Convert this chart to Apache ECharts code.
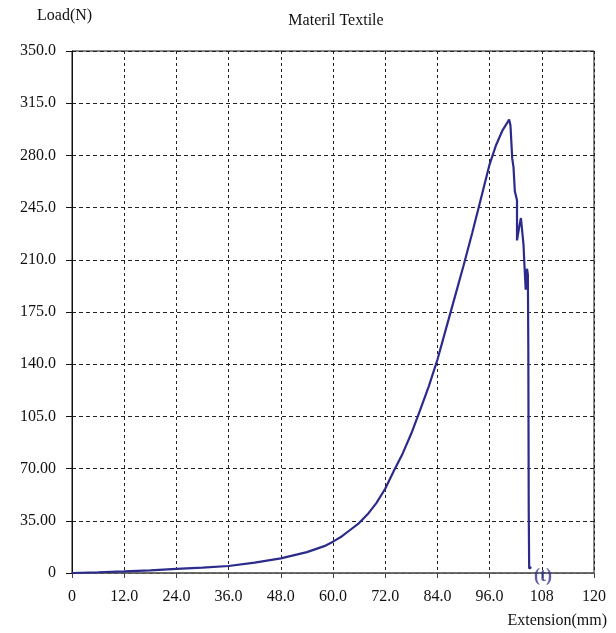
<!DOCTYPE html>
<html>
<head>
<meta charset="utf-8">
<script src="https://cdn.jsdelivr.net/npm/echarts@6/dist/echarts.min.js"></script>
<style>html,body{margin:0;padding:0;background:#fff;}#chart{width:616px;height:633px;}</style>
</head>
<body>
<div id="chart"></div>
<script>
const extension = [0, 6, 12, 18, 24, 30, 36, 42, 48, 54, 58, 60, 62, 64, 66, 68, 70, 72, 74, 76, 78, 80, 82, 84, 86, 88, 90, 92, 94, 96, 97.5, 99, 100.5, 100.8, 101.2, 101.5, 101.8, 102.3, 102.3, 102.8, 103.2, 103.6, 103.8, 104.0, 104.3, 104.6, 104.8, 104.9, 105.0, 105.1, 105.6];
const load = [0, 0.5, 1.1, 1.8, 2.7, 3.6, 4.7, 7, 9.8, 14, 18, 21, 24.5, 29, 33.5, 39.5, 47, 56.5, 68.5, 80, 93.5, 109, 125, 143, 164, 185, 206, 228, 251, 274, 287, 297, 304, 300, 278, 272, 256, 250, 223, 232, 238, 238, 220, 207, 190, 204, 200, 150, 40, 3, 4];
const xTickLabels = ['0', '12.0', '24.0', '36.0', '48.0', '60.0', '72.0', '84.0', '96.0', '108', '120'];
const yTickLabels = ['0', '35.00', '70.00', '105.0', '140.0', '175.0', '210.0', '245.0', '280.0', '315.0', '350.0'];
const title = 'Materil Textile';
const yName = 'Load(N)';
const xName = 'Extension(mm)';
const breakLabel = '(t)';
const breakPoint = [108.3, -2.5];

const font = 'Liberation Serif, Times New Roman, serif';
const chart = echarts.init(document.getElementById('chart'));
chart.setOption({
  animation: false,
  backgroundColor: '#fff',
  title: {
    text: title, left: 331, top: 8, textAlign: 'center',
    textStyle: { fontFamily: font, fontSize: 16, fontWeight: 'normal', color: '#111' }
  },
  graphic: [
    { type: 'text', left: 37, top: 8, style: { text: yName, font: '16px ' + font, fill: '#111' } },
    { type: 'text', right: 9, top: 613, style: { text: xName, font: '16px ' + font, fill: '#111' } }
  ],
  grid: { left: 72, top: 51, right: 22, bottom: 60, show: true, borderColor: '#111', borderWidth: 1 },
  xAxis: {
    type: 'value', min: 0, max: 120, interval: 12,
    axisLine: { show: true, onZero: false, lineStyle: { color: '#666', width: 1.5 } },
    axisTick: { show: true, length: 5, lineStyle: { color: '#444' } },
    axisLabel: {
      margin: 16, fontFamily: font, fontSize: 16, color: '#111',
      formatter: v => xTickLabels[Math.round(v / 12)]
    },
    splitLine: { show: true, lineStyle: { color: '#222', type: [3, 3], width: 1 } }
  },
  yAxis: {
    type: 'value', min: 0, max: 350, interval: 35,
    axisLine: { show: true, lineStyle: { color: '#111', width: 1 } },
    axisTick: { show: true, length: 6, lineStyle: { color: '#111' } },
    axisLabel: {
      margin: 16, fontFamily: font, fontSize: 16, color: '#111',
      formatter: v => yTickLabels[Math.round(v / 35)]
    },
    splitLine: { show: true, lineStyle: { color: '#222', type: [4, 3], width: 1 } }
  },
  series: [{
    type: 'line',
    data: extension.map((x, i) => [x, load[i]]),
    showSymbol: false,
    symbol: 'none',
    clip: false,
    lineStyle: { color: '#2b2b8c', width: 2.2 }
  }, {
    type: 'scatter',
    data: [breakPoint],
    symbolSize: 0,
    clip: false,
    silent: true,
    label: { show: true, formatter: breakLabel, fontFamily: font, fontSize: 18, fontWeight: 'bold', color: '#34348f', position: 'inside' }
  }]
});
</script>
</body>
</html>
